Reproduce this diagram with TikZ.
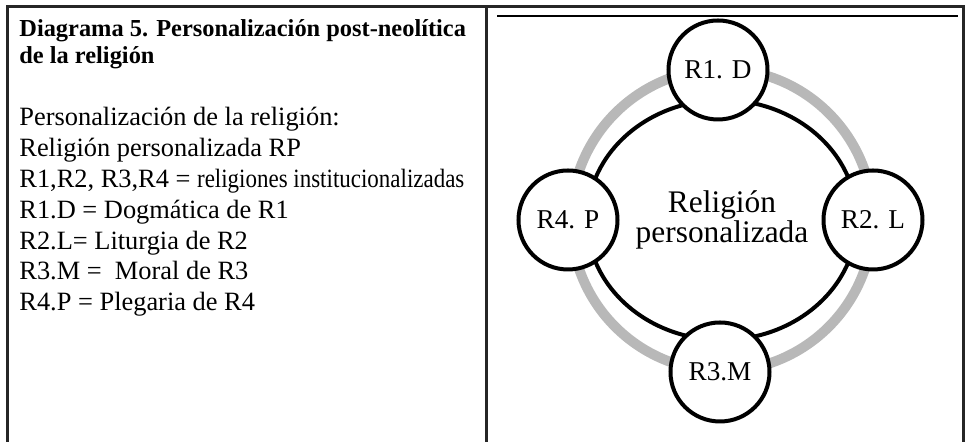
\documentclass[tikz,border=0pt]{standalone}
\usepackage{fontspec}
\setmainfont{Liberation Serif}

\begin{document}
\begin{tikzpicture}
    [x=0.5pt, y=0.5pt,
     frame/.style={line width=1.5pt, draw=black!85},
     ttl/.style={anchor=base west, inner sep=0pt, font=\fontsize{12.2}{14}\selectfont\bfseries},
     txt/.style={anchor=base west, inner sep=0pt, font=\fontsize{13.2}{15}\selectfont},
     rnode/.style={circle, draw, fill=white, line width=2pt, minimum size=49.5pt, inner sep=0pt, font=\fontsize{13.6}{15}\selectfont},
     ring/.style={draw=black!28, line width=5pt},
     inner/.style={draw=black, line width=2pt}]

    \useasboundingbox (0,0) rectangle (966,442);

    % table frame
    \draw [frame] (7.5,0) -- (7.5,435.5) -- (963.5,435.5) -- (963.5,0);
    \draw [frame] (486.5,0) -- (486.5,435.5);
    \draw [line width=1pt] (497,425.5) -- (958,425.5);

    % left cell
    \node [ttl] (t1) at (19,405) {Diagrama 5. Personalización post-neolítica};
    \node [ttl] (t2) at (19,378) {de la religión};

    \node [txt] (l1) at (19,316) {Personalización de la religión:};
    \node [txt] (l2) at (19,285) {Religión personalizada RP};
    \node [txt] (l3) at (19,254) {R1,R2, R3,R4 = \scalebox{0.87}[1]{religiones institucionalizadas}};
    \node [txt] (l4) at (19,223) {R1.D = Dogmática de R1};
    \node [txt] (l5) at (19,192) {R2.L= Liturgia de R2};
    \node [txt] (l6) at (19,162) {R3.M =\ \ Moral de R3};
    \node [txt] (l7) at (19,131) {R4.P = Plegaria de R4};

    % right cell
    \node [align=center, inner sep=0pt, font=\fontsize{15.7}{14}\selectfont] (rp) at (722,222) {Religión\\personalizada};

    \draw [ring] (rp.center) circle [radius=151];
    \draw [inner] (rp.center) ellipse [x radius=135, y radius=120];

    \node [rnode] (r1) at (718,372) {R1. D};
    \node [rnode] (r2) at (873,222) {R2. L};
    \node [rnode] (r3) at (720,70) {R3.M};
    \node [rnode] (r4) at (568,222) {R4. P};
\end{tikzpicture}
\end{document}
